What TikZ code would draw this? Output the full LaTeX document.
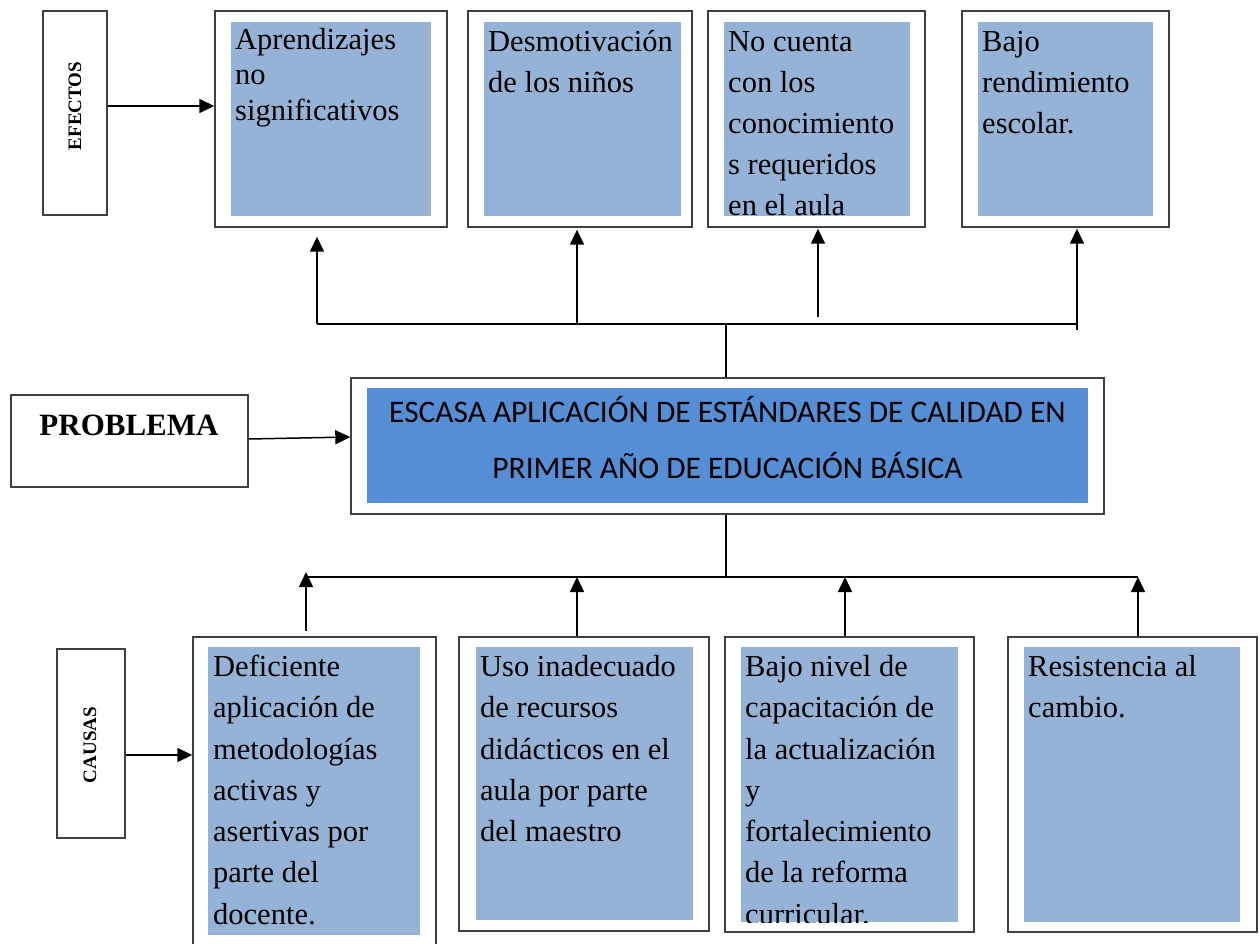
\documentclass[tikz,border=0pt]{standalone}
\usepackage{fontspec}
\setmainfont{Liberation Serif}
\newfontfamily\calfont{Carlito}
\usetikzlibrary{arrows.meta}
\definecolor{lightblue}{HTML}{95B3D7}
\definecolor{midblue}{HTML}{558ED5}
\definecolor{boxgray}{HTML}{404040}
\begin{document}
\begin{tikzpicture}[x=1pt,y=-1pt,
  obox/.style={draw=boxgray,line width=1.4pt,inner sep=0pt,fill=white},
  ibox/.style={fill=lightblue,inner sep=0pt},
  txt/.style={anchor=north west,inner sep=0pt,align=left,font=\fontsize{30.5}{41.3}\selectfont},
  txtb/.style={anchor=north west,inner sep=0pt,align=left,font=\fontsize{30.5}{35.5}\selectfont},
  lab/.style={inner sep=0pt,font=\bfseries\fontsize{19}{22}\selectfont},
  conn/.style={line width=1.5pt},
  arr/.style={conn,-{Triangle[length=15pt,width=14pt]}}]
\useasboundingbox (0,0) rectangle (1260,944);
\fill[white] (0,0) rectangle (1260,944);

% ---- effects ----
\node[obox,minimum width=64pt,minimum height=204pt] (eflab) at (75,113) {};
\node[lab,rotate=90] (eftxt) at (75,106) {EFECTOS};

\node[obox,minimum width=232pt,minimum height=216pt] (e1) at (331,119) {};
\node[ibox,minimum width=200pt,minimum height=194pt] (e1in) at (331,119) {};
\node[txtb] (e1t) at (235,24) {\strut Aprendizajes\\no\\significativos};

\node[obox,minimum width=224pt,minimum height=216pt] (e2) at (580,119) {};
\node[ibox,minimum width=197pt,minimum height=194pt] (e2in) at (582.5,119) {};
\node[txt] (e2t) at (488,22.3) {\strut Desmotivación\\de los niños};

\node[obox,minimum width=217pt,minimum height=216pt] (e3) at (816.5,119) {};
\node[ibox,minimum width=186pt,minimum height=194pt] (e3in) at (817,119) {};
\node[txt,font=\fontsize{30.5}{41}\selectfont] (e3t) at (728,22.3) {\strut No cuenta\\con los\\conocimiento\\s requeridos\\en el aula};

\node[obox,minimum width=207pt,minimum height=216pt] (e4) at (1065.5,119) {};
\node[ibox,minimum width=175pt,minimum height=194pt] (e4in) at (1065.5,119) {};
\node[txt,font=\fontsize{30.5}{41}\selectfont] (e4t) at (982,22.3) {\strut Bajo\\rendimiento\\escolar.};

\draw[arr] ([yshift=7pt]eflab.east) -- ([yshift=7pt]eflab.east -| e1.west);

% ---- problem ----
\node[obox,minimum width=237pt,minimum height=92pt] (plab) at (129.5,441) {};
\node[inner sep=0pt,anchor=base,font=\bfseries\fontsize{31}{36}\selectfont] (ptxt) at (129,435) {PROBLEMA};

\node[obox,minimum width=753pt,minimum height=136pt] (prob) at (727.5,446) {};
\node[fill=midblue,inner sep=0pt,minimum width=721pt,minimum height=115pt] (probin) at (727.5,445.5) {};
\node[inner sep=0pt,font=\calfont\fontsize{31.4}{34}\selectfont] (pl1) at (727.5,409) {ESCASA APLICACIÓN DE ESTÁNDARES DE CALIDAD EN};
\node[inner sep=0pt,font=\calfont\fontsize{31.4}{34}\selectfont] (pl2) at (727.5,466) {PRIMER AÑO DE EDUCACIÓN BÁSICA};

\draw[arr] ([yshift=2pt]plab.east) -- ([yshift=9pt]prob.west);

% ---- top tree ----
\coordinate (tj) at (726,324);
\coordinate (ta1) at (317,324);
\coordinate (ta2) at (577,324);
\coordinate (ta3) at (818,317);
\coordinate (ta4) at (1077,324);
\coordinate (ta4b) at (1077,330);
\draw[conn] (prob.north -| tj) -- (tj);
\draw[conn] (ta1) -- (ta4);
\draw[arr] (ta1) -- ([yshift=-9pt]e1.south -| ta1);
\draw[arr] (ta2) -- ([yshift=-2pt]e2.south -| ta2);
\draw[arr] (ta3) -- ([yshift=-1pt]e3.south -| ta3);
\draw[arr] (ta4b) -- ([yshift=-1pt]e4.south -| ta4b);

% ---- causes ----
\node[obox,minimum width=68pt,minimum height=189pt] (calab) at (91,743.5) {};
\node[lab,rotate=90] (catxt) at (90,745) {CAUSAS};

\node[obox,minimum width=243pt,minimum height=323pt] (c1) at (314.5,798.5) {};
\node[ibox,minimum width=212pt,minimum height=288pt] (c1in) at (314,791) {};
\node[txt] (c1t) at (213,647.3) {\strut Deficiente\\aplicación de\\metodologías\\activas y\\asertivas por\\parte del\\docente.};

\node[obox,minimum width=250pt,minimum height=294pt] (c2) at (584,784) {};
\node[ibox,minimum width=217pt,minimum height=273pt] (c2in) at (584.5,783.5) {};
\node[txt] (c2t) at (480,647.3) {\strut Uso inadecuado\\de recursos\\didácticos en el\\aula por parte\\del maestro};

\node[obox,minimum width=249pt,minimum height=295pt] (c3) at (849.5,784.5) {};
\node[ibox,minimum width=217pt,minimum height=275pt] (c3in) at (849.5,784.5) {};
\begin{scope}
\clip (c3in.north west) rectangle (c3in.south east);
\node[txt] (c3t) at (745,647.3) {\strut Bajo nivel de\\capacitación de\\la actualización\\y\\fortalecimiento\\de la reforma\\curricular.};
\end{scope}

\node[obox,minimum width=249pt,minimum height=295pt] (c4) at (1132.5,784.5) {};
\node[ibox,minimum width=216pt,minimum height=275pt] (c4in) at (1132,784.5) {};
\node[txt] (c4t) at (1028,647.3) {\strut Resistencia al\\cambio.};

\draw[arr] ([yshift=-11.5pt]calab.east) -- ([yshift=-11.5pt]calab.east -| c1.west);

% ---- bottom tree ----
\coordinate (bj) at (726,577);
\coordinate (bl) at (306,577);
\coordinate (b2) at (577,577);
\coordinate (b3) at (845,577);
\coordinate (br) at (1138,577);
\draw[conn] (prob.south -| bj) -- (bj);
\draw[conn] (bl) -- (br);
\draw[arr] ([yshift=5pt]c1.north -| bl) -- ([yshift=5pt]bl);
\draw[arr] (c2.north -| b2) -- (b2);
\draw[arr] (c3.north -| b3) -- (b3);
\draw[arr] (c4.north -| br) -- (br);
\end{tikzpicture}
\end{document}
